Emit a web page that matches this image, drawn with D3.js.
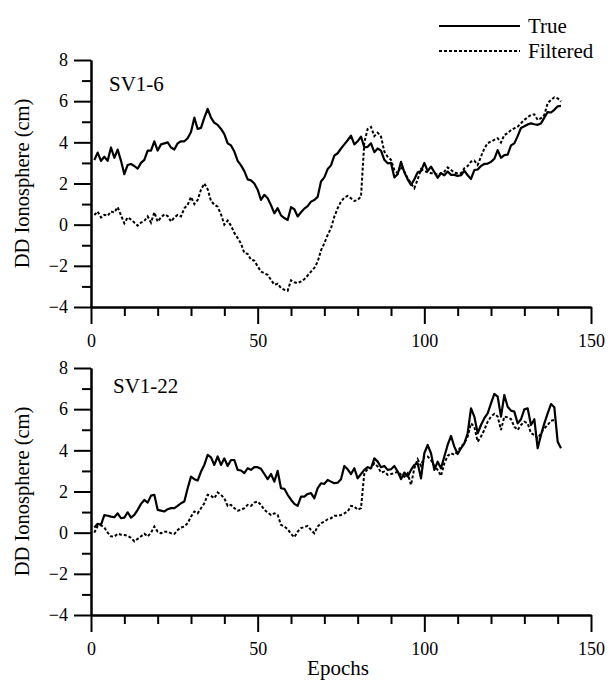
<!DOCTYPE html>
<html>
<head>
<meta charset="utf-8">
<script src="https://cdn.jsdelivr.net/npm/d3@7"></script>
</head>
<body style="margin:0; background:#fff">
<div id="chart"></div>
<script>
// values, one per epoch starting at epoch 1
var sv6True = [3.14,3.5,3.1,3.3,3.1,3.75,3.25,3.65,3.1,2.45,
	2.9,2.95,2.85,2.72,3.0,3.15,3.6,3.6,4.05,3.6,
	3.9,3.95,4.0,3.75,3.65,3.95,4.05,4.05,4.2,4.5,
	5.2,4.65,4.7,5.2,5.62,5.2,4.95,4.85,4.65,4.4,
	3.95,3.85,3.55,3.1,2.88,2.6,2.2,2.15,2.0,1.7,
	1.2,1.45,1.28,0.95,0.55,0.8,0.45,0.32,0.23,0.85,
	0.75,0.4,0.6,0.78,0.9,1.12,1.2,1.35,2.1,2.3,
	2.7,2.88,3.35,3.47,3.7,3.9,4.1,4.32,3.9,4.05,
	4.28,3.75,3.78,3.95,3.52,3.7,3.6,3.15,2.98,3.0,
	2.3,2.45,3.05,2.55,2.2,1.93,2.2,2.55,2.6,3.0,
	2.6,2.82,2.55,2.28,2.5,2.4,2.58,2.42,2.42,2.37,
	2.4,2.62,2.4,2.22,2.65,2.68,2.85,2.95,2.97,3.05,
	3.2,3.62,3.25,3.38,3.4,3.85,3.95,4.3,4.7,4.78,
	4.87,4.92,4.88,4.85,4.92,5.2,5.47,5.45,5.58,5.75,
	5.77];
var sv6Filtered = [0.47,0.64,0.35,0.48,0.43,0.64,0.59,0.85,0.45,0.07,
	0.35,0.25,0.1,-0.05,0.1,0.18,0.4,0.1,0.6,0.15,
	0.35,0.5,0.42,0.15,0.35,0.47,0.4,0.8,0.96,1.35,
	1.0,1.2,1.7,2.0,1.72,1.15,0.97,0.87,0.5,0.0,
	0.2,-0.05,-0.4,-0.65,-0.92,-1.38,-1.42,-1.7,-1.75,-2.03,
	-2.28,-2.36,-2.44,-2.68,-2.92,-2.87,-3.08,-3.16,-3.21,-2.7,
	-2.8,-2.84,-2.76,-2.65,-2.47,-2.28,-2.1,-1.8,-1.25,-0.9,
	-0.5,-0.17,0.39,0.8,1.12,1.32,1.4,1.28,1.15,1.2,
	1.37,4.0,4.65,4.75,4.3,4.47,4.28,3.55,3.3,3.15,
	2.66,2.5,2.82,2.58,2.26,2.0,1.77,2.2,2.7,2.6,
	2.55,2.5,2.5,2.42,2.5,2.58,2.78,2.66,2.53,2.5,
	2.5,2.74,2.85,3.06,3.11,2.9,3.31,3.7,3.96,4.04,
	4.12,4.2,3.99,4.36,4.44,4.6,4.68,4.76,4.93,5.09,
	5.22,5.33,5.36,5.09,5.17,5.33,5.9,6.06,6.19,6.14,
	5.98];
var sv22True = [0.25,0.43,0.38,0.85,0.82,0.78,0.75,0.94,0.7,0.73,
	0.99,0.73,0.86,1.11,1.4,1.59,1.46,1.8,1.84,1.11,
	1.07,1.03,1.14,1.19,1.19,1.3,1.43,1.51,2.16,2.72,
	2.6,2.53,2.97,3.29,3.78,3.66,3.29,3.7,3.29,3.61,
	3.24,3.53,3.53,3.05,3.02,2.89,3.13,3.05,3.18,3.18,
	3.1,2.85,2.6,2.85,2.48,3.0,2.16,2.13,1.84,1.6,
	1.4,1.3,1.75,1.75,1.88,1.92,1.67,2.16,2.4,2.37,
	2.56,2.48,2.4,2.43,2.6,3.24,3.08,2.85,3.13,2.64,
	2.85,3.05,3.18,3.13,3.61,3.45,3.18,3.24,3.05,3.08,
	3.24,2.97,2.6,2.92,2.72,3.05,3.29,3.37,2.64,3.86,
	4.26,3.86,3.05,3.45,3.13,3.7,4.26,4.7,4.18,3.82,
	4.1,4.34,4.83,6.04,5.64,4.83,5.23,5.56,5.8,6.28,
	6.74,6.61,5.64,6.69,6.12,5.93,5.88,5.31,5.51,5.99,
	6.04,5.23,5.51,4.1,4.75,5.31,5.8,6.25,6.09,4.42,
	4.1];
var sv22Filtered = [0.0,0.32,0.36,0.25,0.0,-0.18,-0.19,-0.05,-0.1,-0.11,
	-0.15,-0.25,-0.42,-0.3,-0.18,-0.05,-0.18,0.0,0.3,0.05,
	-0.03,0.05,0.05,-0.03,-0.06,0.13,0.25,0.3,0.46,0.78,
	1.03,0.94,1.19,1.43,1.84,1.79,1.67,1.95,1.84,1.67,
	1.3,1.35,1.19,1.07,1.11,1.19,1.35,1.3,1.46,1.51,
	1.35,1.11,0.98,0.86,0.94,0.86,0.38,0.3,0.17,-0.06,
	-0.22,0.05,0.22,0.27,0.33,0.13,-0.03,0.3,0.46,0.54,
	0.65,0.7,0.82,0.82,0.86,0.94,1.03,1.3,1.27,1.11,
	1.19,2.9,3.08,3.13,3.37,3.21,2.92,2.97,2.81,2.85,
	2.89,2.97,2.81,2.72,2.89,2.32,3.13,3.57,3.25,3.7,
	3.7,3.53,3.24,3.05,2.76,3.37,3.73,3.86,3.78,3.94,
	4.18,4.34,4.67,5.31,5.15,4.42,4.67,4.99,5.39,5.64,
	5.77,5.64,4.99,5.64,5.6,5.52,5.15,4.99,5.23,5.39,
	5.31,4.83,4.75,4.59,4.83,5.07,5.23,5.44,5.48];

var panels = [
	{name: "SV1-6", top: 60, labelX: 109, labelY: 91, trueVals: sv6True, filtVals: sv6Filtered},
	{name: "SV1-22", top: 368, labelX: 113, labelY: 393, trueVals: sv22True, filtVals: sv22Filtered}
];

var yMajor = [-4, -2, 0, 2, 4, 6, 8];
var yMinor = [-3, -1, 1, 3, 5, 7];
var xMajor = [0, 50, 100, 150];
var xMinor = [10, 20, 30, 40, 60, 70, 80, 90, 110, 120, 130, 140];

var FONT = "'Liberation Serif'";

var config = {
	width: 609,
	height: 687,
	left: 91,
	right: 591,
	plotHeight: 247
};

var svg = d3.select("#chart").append("svg")
	.attr("width", config.width)
	.attr("height", config.height);

var x = d3.scaleLinear().domain([0, 150]).range([config.left, config.right]);

var line = function(y) {
	return d3.line()
		.x(function(d, i) { return x(i + 1); })
		.y(function(d) { return y(d); });
};

function label(sel, size) {
	return sel.style("font-family", FONT).style("font-size", size + "px").attr("fill", "#000");
}

panels.forEach(function(p) {
	var y = d3.scaleLinear().domain([-4, 8]).range([p.top + config.plotHeight, p.top]);
	var bottom = p.top + config.plotHeight;

	// axes: major and minor ticks drawn as two d3 axes
	svg.append("g").attr("transform", "translate(" + config.left + ",0)")
		.call(d3.axisLeft(y).tickValues(yMajor).tickSize(17).tickSizeOuter(0).tickPadding(6).tickFormat(d3.format("d")));
	svg.append("g").attr("transform", "translate(" + config.left + ",0)")
		.call(d3.axisLeft(y).tickValues(yMinor).tickSize(9).tickSizeOuter(0).tickFormat(""));

	svg.append("g").attr("transform", "translate(0," + bottom + ")")
		.call(d3.axisBottom(x).tickValues(xMajor).tickSize(17).tickSizeOuter(0).tickPadding(10).tickFormat(d3.format("d")));
	svg.append("g").attr("transform", "translate(0," + bottom + ")")
		.call(d3.axisBottom(x).tickValues(xMinor).tickSize(9).tickSizeOuter(0).tickFormat(""));

	svg.append("path")
		.datum(p.trueVals)
		.attr("fill", "none")
		.attr("stroke", "#000")
		.attr("stroke-width", 2.2)
		.attr("stroke-linejoin", "round")
		.attr("d", line(y));

	svg.append("path")
		.datum(p.filtVals)
		.attr("fill", "none")
		.attr("stroke", "#000")
		.attr("stroke-width", 2)
		.attr("stroke-dasharray", "3,2")
		.attr("d", line(y));

	label(svg.append("text")
		.attr("x", p.labelX)
		.attr("y", p.labelY), 21)
		.text(p.name);

	label(svg.append("text")
		.attr("transform", "translate(29," + (p.top + config.plotHeight / 2) + ") rotate(-90)")
		.attr("text-anchor", "middle"), 20.5)
		.text("DD Ionosphere (cm)");
});

svg.selectAll(".domain, .tick line").attr("stroke", "#000").attr("stroke-width", 2);
label(svg.selectAll(".tick text"), 18);

label(svg.append("text")
	.attr("x", 338)
	.attr("y", 675)
	.attr("text-anchor", "middle"), 21)
	.text("Epochs");

// legend
var legend = [{label: "True", dash: null, y: 26}, {label: "Filtered", dash: "3,2", y: 51}];
legend.forEach(function(l) {
	svg.append("line")
		.attr("x1", 439).attr("x2", 520)
		.attr("y1", l.y).attr("y2", l.y)
		.attr("stroke", "#000")
		.attr("stroke-width", 2)
		.attr("stroke-dasharray", l.dash);
	label(svg.append("text")
		.attr("x", 528)
		.attr("y", l.y + 7), 21)
		.text(l.label);
});
</script>
</body>
</html>
